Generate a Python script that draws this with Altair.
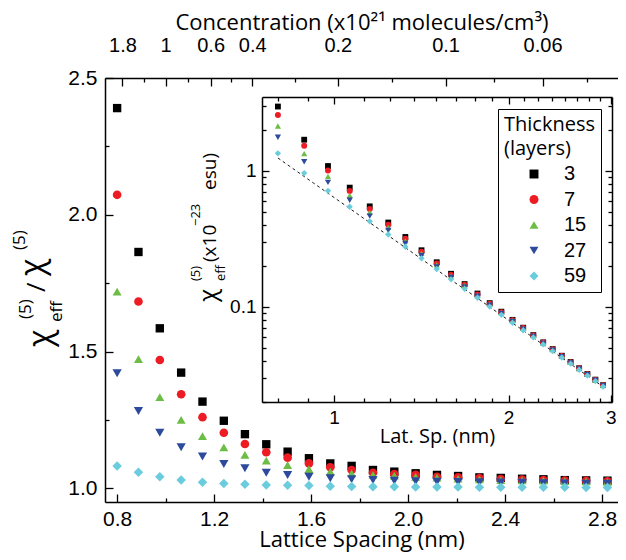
import altair as alt
import pandas as pd

# ---------------- data ----------------
thickness = ["3", "7", "15", "27", "59"]
colors = ["#000000", "#ED1C24", "#6CBD45", "#2D4A9C", "#6ACCDC"]
shapes = ["square", "circle", "triangle-up", "triangle-down", "diamond"]

lattice_nm = [0.800, 0.888, 0.976, 1.064, 1.152, 1.240, 1.327, 1.415, 1.503, 1.591,
              1.679, 1.767, 1.855, 1.943, 2.031, 2.119, 2.206, 2.294, 2.382, 2.470,
              2.558, 2.646, 2.734, 2.822, 2.910]

ratio_3 = [2.390, 1.864, 1.585, 1.423, 1.317, 1.247, 1.198, 1.161, 1.134, 1.110,
           1.091, 1.082, 1.067, 1.061, 1.055, 1.049, 1.045, 1.040, 1.038, 1.035,
           1.033, 1.030, 1.029, 1.028, 1.027]
ratio_7 = [2.073, 1.683, 1.469, 1.344, 1.260, 1.203, 1.162, 1.132, 1.112, 1.091,
           1.077, 1.067, 1.057, 1.052, 1.049, 1.042, 1.040, 1.037, 1.034, 1.032,
           1.030, 1.028, 1.027, 1.026, 1.025]
ratio_15 = [1.719, 1.472, 1.333, 1.250, 1.191, 1.150, 1.122, 1.101, 1.085, 1.070,
            1.061, 1.055, 1.049, 1.046, 1.042, 1.039, 1.035, 1.033, 1.030, 1.029,
            1.028, 1.026, 1.025, 1.024, 1.023]
ratio_27 = [1.421, 1.283, 1.203, 1.150, 1.116, 1.089, 1.073, 1.057, 1.049, 1.042,
            1.037, 1.033, 1.030, 1.028, 1.026, 1.024, 1.023, 1.022, 1.021, 1.020,
            1.019, 1.018, 1.017, 1.017, 1.016]
ratio_59 = [1.082, 1.059, 1.042, 1.030, 1.022, 1.018, 1.015, 1.012, 1.011, 1.010,
            1.008, 1.007, 1.006, 1.006, 1.005, 1.005, 1.005, 1.004, 1.004, 1.004,
            1.004, 1.004, 1.003, 1.003, 1.003]
# chi^(5) (x10^-23 esu) read along the dashed line of the inset
chi5 = [1.246, 0.911, 0.686, 0.530, 0.417, 0.335, 0.273, 0.225, 0.188, 0.158,
        0.135, 0.116, 0.100, 0.087, 0.0762, 0.0671, 0.0594, 0.0528, 0.0472, 0.0423,
        0.0381, 0.0344, 0.0312, 0.0284, 0.0259]

conc_labels = [1.8, 1, 0.6, 0.4, 0.2, 0.1, 0.06, 0.04]
x_major = [0.8, 1.2, 1.6, 2.0, 2.4, 2.8]
x_minor = [1.0, 1.4, 1.8, 2.2, 2.6]
y_major = [1.0, 1.5, 2.0, 2.5]
y_minor = [1.25, 1.75, 2.25]
inset_x_major = [1, 2, 3]
inset_x_minor = [0.8, 0.9, 1.125, 1.25, 1.375, 1.5, 1.625, 1.75, 1.875,
                 2.125, 2.25, 2.375, 2.5, 2.625, 2.75, 2.875]
inset_y_major = [0.1, 1]
inset_y_minor = [0.02, 0.03, 0.04, 0.05, 0.06, 0.07, 0.08, 0.09,
                 0.2, 0.3, 0.4, 0.5, 0.6, 0.7, 0.8, 0.9, 2, 3]

series = [ratio_3, ratio_7, ratio_15, ratio_27, ratio_59]
rows = []
for t, vals in zip(thickness, series):
    for d, r, c in zip(lattice_nm, vals, chi5):
        rows.append({"d": d, "thickness": t, "ratio": r, "chi": r * c})
df = pd.DataFrame(rows)
line_df = pd.DataFrame({"d": lattice_nm, "chi5": chi5})
one = pd.DataFrame({"k": [0]})

# ---------------- layout ----------------
W, H = 513, 424
PX_PER_NM = 242.5
X_DOM = [0.75, 0.75 + W / PX_PER_NM]
Y_DOM = [0.95, 2.5]
IN_XR = [157, 507]
IN_YR = [324, 19]
IN_XDOM = [0.751, 3.015]
IN_YDOM = [0.02, 3.5]

TICKFONT = "Liberation Sans"
TEXTFONT = "Open Sans"

conc_d = [c ** (-1.0 / 3.0) for c in conc_labels]
top_major = [d for d in conc_d if X_DOM[0] <= d <= X_DOM[1]]
top_minor = [(a + b) / 2 for a, b in zip(conc_d[:-1], conc_d[1:])]
top_minor = [d for d in top_minor if X_DOM[0] <= d <= X_DOM[1]]


def axis(orient, values, size, labels=False, domain=False, pad=0, fsize=21,
         offset=0, **kw):
    opts = dict(orient=orient, values=values,
                tickSize=alt.ExprRef(expr=str(-size)),
                tickColor="black", tickWidth=1.3, grid=False,
                domain=domain, labels=labels, offset=offset,
                labelFlush=False, labelOverlap=False, title=None)
    if domain:
        opts.update(domainColor="black", domainWidth=1.5)
    if labels:
        opts.update(labelFont=TICKFONT, labelFontSize=fsize, labelColor="black",
                    labelPadding=pad + size)
    opts.update(kw)
    return alt.Axis(**opts)


xs_main = alt.Scale(domain=X_DOM, nice=False, zero=False)
ys_main = alt.Scale(domain=Y_DOM, nice=False, zero=False)
xs_in = alt.Scale(type="log", domain=IN_XDOM, range=IN_XR, nice=False)
ys_in = alt.Scale(type="log", domain=IN_YDOM, range=IN_YR, nice=False)

legend = alt.Legend(
    orient="none", legendX=393, legendY=31,
    title=["Thickness", "(layers)"], titleFont=TEXTFONT, titleFontSize=20,
    titleFontWeight="normal", titleColor="black", titleLineHeight=24,
    titlePadding=5, labelFont=TICKFONT, labelFontSize=20, labelColor="black",
    strokeColor="black", padding=6, symbolOffset=20, labelOffset=20,
    rowPadding=5.5, symbolSize=80, symbolOpacity=1, symbolStrokeWidth=0)

color = alt.Color("thickness:N", sort=thickness,
                  scale=alt.Scale(domain=thickness, range=colors), legend=legend)
shape = alt.Shape("thickness:N", sort=thickness,
                  scale=alt.Scale(domain=thickness, range=shapes), legend=legend)

# main points with labelled bottom / left axes
main = alt.Chart(df).mark_point(filled=True, opacity=1, strokeWidth=0).encode(
    x=alt.X("d:Q", scale=xs_main,
            axis=axis("bottom", x_major, 8, labels=True, domain=True, pad=6,
                      format=".1f", titleFont=TEXTFONT, titleFontSize=22,
                      titleFontWeight="normal", titleColor="black",
                      titleBaseline="alphabetic", titleY=44,
                      title="Lattice Spacing (nm)")),
    y=alt.Y("ratio:Q", scale=ys_main,
            axis=axis("left", y_major, 8, labels=True, domain=True, pad=8,
                      format=".1f")),
    color=color, shape=shape,
    size=alt.Size("thickness:N", sort=thickness, legend=None,
                  scale=alt.Scale(domain=thickness, range=[70, 90, 100, 100, 110])),
)

# minor ticks bottom / left
main_minor = alt.Chart(df).mark_point(opacity=0).encode(
    x=alt.X("d:Q", scale=xs_main, axis=axis("bottom", x_minor, 4)),
    y=alt.Y("ratio:Q", scale=ys_main, axis=axis("left", y_minor, 4)),
)

# top concentration axis
top = alt.Chart(df).mark_point(opacity=0).encode(
    x=alt.X("d:Q", scale=xs_main,
            axis=axis("top", top_major, 8, labels=True, domain=True, pad=23,
                      fsize=20,
                      labelExpr="format(1/pow(datum.value,3), '.2~r')",
                      title="Concentration (x10\u00b2\u00b9 molecules/cm\u00b3)",
                      titleFont=TEXTFONT, titleFontSize=22,
                      titleFontWeight="normal", titleColor="black",
                      titleBaseline="alphabetic", titleY=-49)),
)
top_minor_l = alt.Chart(df).mark_point(opacity=0).encode(
    x=alt.X("d:Q", scale=xs_main, axis=axis("top", top_minor, 4)),
)

# inset dashed line (with inset minor ticks)
inset_line = alt.Chart(line_df).mark_line(
    color="black", strokeWidth=0.9, strokeDash=[3, 3]).encode(
    x=alt.X("d:Q", scale=xs_in,
            axis=axis("bottom", inset_x_minor, 4, offset=-(H - IN_YR[0]))),
    y=alt.Y("chi5:Q", scale=ys_in,
            axis=axis("left", inset_y_minor, 4, offset=-IN_XR[0])),
)

# inset points
inset_pts = alt.Chart(df).mark_point(filled=True, opacity=1, strokeWidth=0).encode(
    x=alt.X("d:Q", scale=xs_in,
            axis=axis("bottom", inset_x_major, 7, labels=True, domain=True,
                      pad=6, fsize=19, format="~g", offset=-(H - IN_YR[0]),
                      title="Lat. Sp. (nm)", titleFont=TEXTFONT,
                      titleFontSize=20, titleFontWeight="normal",
                      titleColor="black", titleBaseline="alphabetic",
                      titleY=40)),
    y=alt.Y("chi:Q", scale=ys_in,
            axis=axis("left", inset_y_major, 7, labels=True, domain=True,
                      pad=6, fsize=19, format="~g", offset=-IN_XR[0])),
    color=alt.Color("thickness:N", sort=thickness,
                    scale=alt.Scale(domain=thickness, range=colors), legend=None),
    shape=alt.Shape("thickness:N", sort=thickness,
                    scale=alt.Scale(domain=thickness, range=shapes), legend=None),
    size=alt.Size("thickness:N", sort=thickness, legend=None,
                  scale=alt.Scale(domain=thickness, range=[34, 40, 46, 46, 55])),
)

# inset mirror axes (top / right)
inset_m1 = alt.Chart(line_df).mark_point(opacity=0).encode(
    x=alt.X("d:Q", scale=xs_in,
            axis=axis("top", inset_x_major, 7, domain=True, offset=-IN_YR[1])),
    y=alt.Y("chi5:Q", scale=ys_in,
            axis=axis("right", inset_y_major, 7, domain=True,
                      offset=-(W - IN_XR[1]))),
)
inset_m2 = alt.Chart(line_df).mark_point(opacity=0).encode(
    x=alt.X("d:Q", scale=xs_in,
            axis=axis("top", inset_x_minor, 4, offset=-IN_YR[1])),
    y=alt.Y("chi5:Q", scale=ys_in,
            axis=axis("right", inset_y_minor, 4, offset=-(W - IN_XR[1]))),
)


def piece(text, size, x, y, font=TEXTFONT):
    return alt.Chart(one).mark_text(
        text=text, angle=270, align="left", baseline="alphabetic",
        font=font, fontSize=size, color="black").encode(
        x=alt.value(x), y=alt.value(y))


# main y-axis title: chi_eff^(5) / chi^(5)
ytitle = [
    piece("\u03c7", 32, -54, 269),
    piece("(5)", 17, -74, 241),
    piece("eff", 17, -43, 244),
    piece("/", 26, -60, 214),
    piece("\u03c7", 32, -62, 198),
    piece("(5)", 17, -80, 172),
]
# inset y-axis title: chi_eff^(5) (x10^-23 esu)
ititle = [
    piece("\u03c7", 24, 111, 224),
    piece("(5)", 13, 95, 203),
    piece("eff", 13, 120, 203),
    piece("(x10", 19, 111, 184),
    piece("\u221223", 13, 95, 148),
    piece("esu)", 19, 111, 112),
]

chart = alt.layer(
    main_minor, top, top_minor_l, inset_line, inset_m1, inset_m2,
    main, inset_pts, *ytitle, *ititle,
).resolve_scale(
    x="independent", y="independent", size="independent"
).resolve_axis(
    x="independent", y="independent"
).properties(
    width=W, height=H,
    autosize=alt.AutoSizeParams(type="none"),
    padding={"left": 97, "top": 70, "right": 0, "bottom": 50},
).configure_view(
    stroke="black", strokeWidth=1.5
).configure(background="white")

chart.save("out.html", embed_options={"renderer": "svg", "actions": False})
